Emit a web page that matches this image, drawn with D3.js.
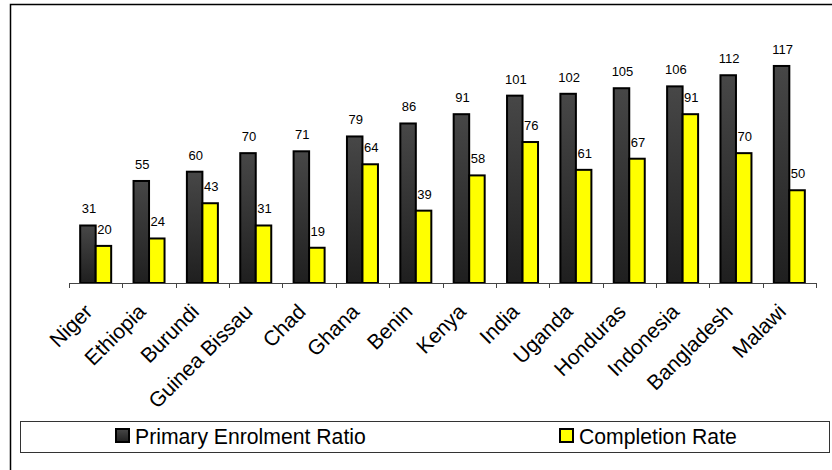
<!DOCTYPE html>
<html>
<head>
<meta charset="utf-8">
<script src="https://cdn.jsdelivr.net/npm/d3@7"></script>
<style>
  body { margin: 0; background: #fff; }
  text { font-family: Arial, "Liberation Sans", sans-serif; fill: #000; }
</style>
</head>
<body>
<svg id="chart"></svg>
<script>
// data
var countries = ["Niger", "Ethiopia", "Burundi", "Guinea Bissau", "Chad", "Ghana", "Benin",
    "Kenya", "India", "Uganda", "Honduras", "Indonesia", "Bangladesh", "Malawi"];
var enrolment = [31, 55, 60, 70, 71, 79, 86, 91, 101, 102, 105, 106, 112, 117];
var completion = [20, 24, 43, 31, 19, 64, 39, 58, 76, 61, 67, 91, 70, 50];
var seriesNames = ["Primary Enrolment Ratio", "Completion Rate"];

var width = 832,
    height = 470;

var svg = d3.select("#chart")
    .attr("width", width)
    .attr("height", height);

var defs = svg.append("defs");
var grad = defs.append("linearGradient")
    .attr("id", "darkGrad")
    .attr("x1", 0).attr("y1", 0)
    .attr("x2", 0).attr("y2", 1);
grad.append("stop").attr("offset", "0%").attr("stop-color", "#474747");
grad.append("stop").attr("offset", "100%").attr("stop-color", "#1f1f1f");

// outer chart border (runs off the right and bottom of the picture)
svg.append("rect")
    .attr("x", 10.5).attr("y", 4.5)
    .attr("width", 840).attr("height", 480)
    .attr("fill", "none")
    .attr("stroke", "#000")
    .attr("stroke-width", 1.5);

var x0 = d3.scaleBand()
    .domain(countries)
    .range([69, 816])
    .paddingInner(0)
    .paddingOuter(0);

var inner = 31 / x0.bandwidth();
var x1 = d3.scaleBand()
    .domain([0, 1])
    .range([0, x0.bandwidth()])
    .paddingOuter((1 - inner) / inner)
    .paddingInner(0);

var y = d3.scaleLinear()
    .domain([0, 140])
    .range([283, 23.3]);

var rows = countries.map(function(c, i) {
    return { name: c, values: [enrolment[i], completion[i]] };
});
var fills = ["url(#darkGrad)", "#ffff00"];

var groups = svg.selectAll("g.country")
    .data(rows).enter()
    .append("g")
    .attr("class", "country")
    .attr("transform", function(d) { return "translate(" + x0(d.name) + ",0)"; });

groups.selectAll("rect")
    .data(function(d) { return d.values; })
    .enter().append("rect")
    .attr("x", function(d, i) { return x1(i); })
    .attr("y", function(d) { return y(d); })
    .attr("width", x1.bandwidth())
    .attr("height", function(d) { return y(0) - y(d); })
    .attr("fill", function(d, i) { return fills[i]; })
    .attr("stroke", "#000")
    .attr("stroke-width", 2);

groups.selectAll("text.val")
    .data(function(d) { return d.values; })
    .enter().append("text")
    .attr("class", "val")
    .attr("x", function(d, i) { return x1(i) + x1.bandwidth() / 2 + 1; })
    .attr("y", function(d) { return y(d) - 12; })
    .attr("text-anchor", "middle")
    .style("font-size", "13px")
    .text(function(d) { return d; });

// category axis
var axis = d3.axisBottom(x0)
    .tickSize(0)
    .tickFormat("");
var gx = svg.append("g")
    .attr("transform", "translate(0," + y(0) + ")")
    .call(axis);
gx.select(".domain").attr("stroke", "#444").attr("stroke-width", 1);

var edges = countries.map(function(c) { return x0(c); }).concat([x0.range()[1]]);
gx.selectAll("line.edge")
    .data(edges).enter()
    .append("line")
    .attr("class", "edge")
    .attr("x1", function(d) { return Math.round(d) + 0.5; })
    .attr("x2", function(d) { return Math.round(d) + 0.5; })
    .attr("y1", 0).attr("y2", 5)
    .attr("stroke", "#444");

svg.selectAll("text.cat")
    .data(countries).enter()
    .append("text")
    .attr("class", "cat")
    .attr("text-anchor", "end")
    .attr("transform", function(d) {
        var cx = x0(d) + x0.bandwidth() / 2 - 2;
        return "translate(" + cx + ",313) rotate(-45)";
    })
    .style("font-size", "21px")
    .text(function(d) { return d; });

// legend
var legend = svg.append("g");
legend.append("rect")
    .attr("x", 20.5).attr("y", 421.5)
    .attr("width", 809).attr("height", 31)
    .attr("fill", "#fff")
    .attr("stroke", "#333")
    .attr("stroke-width", 1);

var legendX = [116, 560];
var items = legend.selectAll("g.item")
    .data(seriesNames).enter()
    .append("g")
    .attr("class", "item")
    .attr("transform", function(d, i) { return "translate(" + legendX[i] + ",0)"; });

items.append("rect")
    .attr("x", 0).attr("y", 429)
    .attr("width", 13).attr("height", 13)
    .attr("fill", function(d, i) { return fills[i]; })
    .attr("stroke", "#000")
    .attr("stroke-width", 2);

items.append("text")
    .attr("x", 19).attr("y", 444)
    .style("font-size", "21.2px")
    .text(function(d) { return d; });
</script>
</body>
</html>
